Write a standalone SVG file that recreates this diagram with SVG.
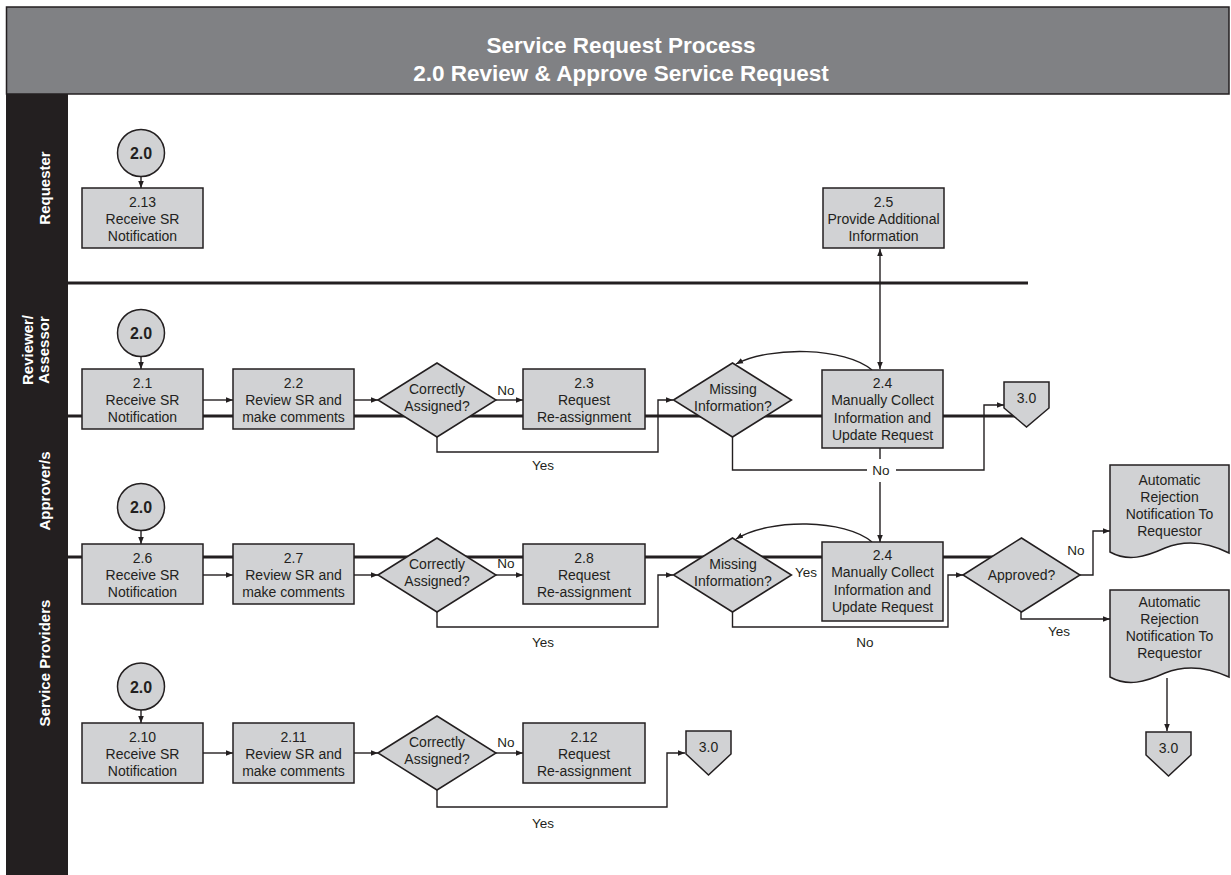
<svg xmlns="http://www.w3.org/2000/svg" width="1231" height="875" viewBox="0 0 1231 875">
<style>
.node{fill:#d1d2d4;stroke:#231f20;stroke-width:1.5}
.lane{stroke:#231f20;stroke-width:3;fill:none}
.conn{fill:none;stroke:#231f20;stroke-width:1.4}
.t{font-family:"Liberation Sans",Arial,sans-serif;font-size:14px;fill:#231f20;text-anchor:middle}
.lbl{font-family:"Liberation Sans",Arial,sans-serif;font-size:13.5px;fill:#231f20;text-anchor:middle}
.c{font-family:"Liberation Sans",Arial,sans-serif;font-size:16px;font-weight:bold;fill:#231f20;text-anchor:middle}
.lanet{font-family:"Liberation Sans",Arial,sans-serif;font-size:15px;font-weight:bold;fill:#ffffff;text-anchor:middle}
.title{font-family:"Liberation Sans",Arial,sans-serif;font-size:22.5px;font-weight:bold;fill:#ffffff;text-anchor:middle}
</style>
<defs>
<marker id="arr" viewBox="0 0 10 10" refX="10" refY="5" markerWidth="7" markerHeight="7" orient="auto-start-reverse" markerUnits="userSpaceOnUse">
<path d="M0,1 L10,5 L0,9 z" fill="#231f20"/>
</marker>
</defs>
<rect width="1231" height="875" fill="#ffffff"/>
<g id="header">
<rect x="6.5" y="7" width="1222.5" height="87" fill="#808184" stroke="#231f20" stroke-width="1.5"/>
<text class="title" x="621" y="53">Service Request Process</text>
<text class="title" x="621" y="81">2.0 Review &amp; Approve Service Request</text>
</g>
<g id="lanes">
<rect x="6" y="94" width="62" height="781" fill="#231f20"/>
<text class="lanet" transform="translate(45,188) rotate(-90)" x="0" y="5">Requester</text>
<text class="lanet" transform="translate(36,350) rotate(-90)" x="0" y="-3">Reviewer/</text>
<text class="lanet" transform="translate(36,350) rotate(-90)" x="0" y="13">Assessor</text>
<text class="lanet" transform="translate(45,491) rotate(-90)" x="0" y="5">Approver/s</text>
<text class="lanet" transform="translate(45,663) rotate(-90)" x="0" y="5">Service Providers</text>
<line class="lane" x1="68" y1="283" x2="1028" y2="283"/>
<line class="lane" x1="68" y1="416" x2="1020" y2="416"/>
<line class="lane" x1="68" y1="557" x2="993" y2="557"/>
</g>
<g id="connectors">
<path class="conn" d="M141,176.5 V188" marker-end="url(#arr)"/>
<path class="conn" d="M141,356.5 V369" marker-end="url(#arr)"/>
<path class="conn" d="M203,400 H233" marker-end="url(#arr)"/>
<path class="conn" d="M354,400 H378" marker-end="url(#arr)"/>
<path class="conn" d="M496,400 H523" marker-end="url(#arr)"/>
<path class="conn" d="M437,437 V452 H658 V400 H673" marker-end="url(#arr)"/>
<path class="conn" d="M732.5,437 V470 H984 V405 H1004" marker-end="url(#arr)"/>
<path class="conn" d="M880,249 V369" marker-start="url(#arr)" marker-end="url(#arr)"/>
<path class="conn" d="M880,448 V542" marker-end="url(#arr)"/>
<path class="conn" d="M872,370 C845,347 770,346 736,364" marker-end="url(#arr)"/>
<path class="conn" d="M141,530.5 V544" marker-end="url(#arr)"/>
<path class="conn" d="M203,575 H233" marker-end="url(#arr)"/>
<path class="conn" d="M354,575 H378" marker-end="url(#arr)"/>
<path class="conn" d="M496,575 H523" marker-end="url(#arr)"/>
<path class="conn" d="M437,612 V627 H658 V575 H673" marker-end="url(#arr)"/>
<path class="conn" d="M732.5,612 V627 H948 V575 H963" marker-end="url(#arr)"/>
<path class="conn" d="M872,542 C845,519 770,518 736,539" marker-end="url(#arr)"/>
<path class="conn" d="M1080,575 H1093 V531 H1110" marker-end="url(#arr)"/>
<path class="conn" d="M1021,612 V619 H1110" marker-end="url(#arr)"/>
<path class="conn" d="M1167,678 V731" marker-end="url(#arr)"/>
<path class="conn" d="M141,709.5 V723" marker-end="url(#arr)"/>
<path class="conn" d="M203,753 H233" marker-end="url(#arr)"/>
<path class="conn" d="M354,753 H378" marker-end="url(#arr)"/>
<path class="conn" d="M496,753 H523" marker-end="url(#arr)"/>
<path class="conn" d="M437,790 V807 H667 V753 H685" marker-end="url(#arr)"/>
</g>
<g id="labels">
<text class="lbl" x="506" y="395">No</text>
<text class="lbl" x="543" y="470">Yes</text>
<rect x="867" y="459" width="29" height="23" fill="#ffffff"/>
<text class="lbl" x="881" y="475">No</text>
<text class="lbl" x="506" y="568">No</text>
<text class="lbl" x="543" y="647">Yes</text>
<text class="lbl" x="806" y="577">Yes</text>
<text class="lbl" x="865" y="647">No</text>
<text class="lbl" x="1076" y="555">No</text>
<text class="lbl" x="1059" y="636">Yes</text>
<text class="lbl" x="506" y="747">No</text>
<text class="lbl" x="543" y="828">Yes</text>
</g>
<g id="n-start-req">
<circle class="node" cx="141" cy="153" r="23.5"/>
<text class="c" x="141" y="159">2.0</text>
</g>
<g id="n-2-13">
<rect class="node" x="82" y="188" width="121" height="60"/>
<text class="t" x="142.5" y="207">2.13</text>
<text class="t" x="142.5" y="224">Receive SR</text>
<text class="t" x="142.5" y="241">Notification</text>
</g>
<g id="n-2-5">
<rect class="node" x="823" y="188" width="121" height="60"/>
<text class="t" x="883.5" y="207">2.5</text>
<text class="t" x="883.5" y="224">Provide Additional</text>
<text class="t" x="883.5" y="241">Information</text>
</g>
<g id="n-start-rev">
<circle class="node" cx="141" cy="333" r="23.5"/>
<text class="c" x="141" y="339">2.0</text>
</g>
<g id="n-2-1">
<rect class="node" x="82" y="369" width="121" height="60"/>
<text class="t" x="142.5" y="388">2.1</text>
<text class="t" x="142.5" y="405">Receive SR</text>
<text class="t" x="142.5" y="422">Notification</text>
</g>
<g id="n-2-2">
<rect class="node" x="233" y="369" width="121" height="60"/>
<text class="t" x="293.5" y="388">2.2</text>
<text class="t" x="293.5" y="405">Review SR and</text>
<text class="t" x="293.5" y="422">make comments</text>
</g>
<g id="n-d1">
<polygon class="node" points="378,400 437,363 496,400 437,437"/>
<text class="t" x="437" y="394">Correctly</text>
<text class="t" x="437" y="411">Assigned?</text>
</g>
<g id="n-2-3">
<rect class="node" x="523" y="369" width="122" height="60"/>
<text class="t" x="584" y="388">2.3</text>
<text class="t" x="584" y="405">Request</text>
<text class="t" x="584" y="422">Re-assignment</text>
</g>
<g id="n-m1">
<polygon class="node" points="673.5,400 732.5,363 791.5,400 732.5,437"/>
<text class="t" x="733" y="394">Missing</text>
<text class="t" x="733" y="411">Information?</text>
</g>
<g id="n-2-4a">
<rect class="node" x="822" y="370" width="121" height="78"/>
<text class="t" x="882.5" y="388">2.4</text>
<text class="t" x="882.5" y="405">Manually Collect</text>
<text class="t" x="882.5" y="423">Information and</text>
<text class="t" x="882.5" y="440">Update Request</text>
</g>
<g id="n-end-rev">
<polygon class="node" points="1004,382 1049,382 1049,408 1026.5,427 1004,408"/>
<text class="t" x="1026.5" y="403">3.0</text>
</g>
<g id="n-start-app">
<circle class="node" cx="141" cy="507" r="23.5"/>
<text class="c" x="141" y="513">2.0</text>
</g>
<g id="n-2-6">
<rect class="node" x="82" y="544" width="121" height="60"/>
<text class="t" x="142.5" y="563">2.6</text>
<text class="t" x="142.5" y="580">Receive SR</text>
<text class="t" x="142.5" y="597">Notification</text>
</g>
<g id="n-2-7">
<rect class="node" x="233" y="544" width="121" height="60"/>
<text class="t" x="293.5" y="563">2.7</text>
<text class="t" x="293.5" y="580">Review SR and</text>
<text class="t" x="293.5" y="597">make comments</text>
</g>
<g id="n-d2">
<polygon class="node" points="378,575 437,538 496,575 437,612"/>
<text class="t" x="437" y="569">Correctly</text>
<text class="t" x="437" y="586">Assigned?</text>
</g>
<g id="n-2-8">
<rect class="node" x="523" y="544" width="122" height="60"/>
<text class="t" x="584" y="563">2.8</text>
<text class="t" x="584" y="580">Request</text>
<text class="t" x="584" y="597">Re-assignment</text>
</g>
<g id="n-m2">
<polygon class="node" points="673.5,575 732.5,538 791.5,575 732.5,612"/>
<text class="t" x="733" y="569">Missing</text>
<text class="t" x="733" y="586">Information?</text>
</g>
<g id="n-2-4b">
<rect class="node" x="822" y="542" width="121" height="79"/>
<text class="t" x="882.5" y="560">2.4</text>
<text class="t" x="882.5" y="577">Manually Collect</text>
<text class="t" x="882.5" y="595">Information and</text>
<text class="t" x="882.5" y="612">Update Request</text>
</g>
<g id="n-approved">
<polygon class="node" points="963,575 1021.5,538 1080,575 1021.5,612"/>
<text class="t" x="1021.5" y="580">Approved?</text>
</g>
<g id="n-doc-no">
<path class="node" d="M1110,465 H1229 V553 C1205,541 1185,540 1165,548 C1145,557 1128,562 1110,552 Z"/>
<text class="t" x="1169.5" y="485">Automatic</text>
<text class="t" x="1169.5" y="502">Rejection</text>
<text class="t" x="1169.5" y="519">Notification To</text>
<text class="t" x="1169.5" y="536">Requestor</text>
</g>
<g id="n-doc-yes">
<path class="node" d="M1110,590 H1229 V677 C1205,666 1185,665 1165,673 C1145,682 1128,687 1110,677 Z"/>
<text class="t" x="1169.5" y="607">Automatic</text>
<text class="t" x="1169.5" y="624">Rejection</text>
<text class="t" x="1169.5" y="641">Notification To</text>
<text class="t" x="1169.5" y="658">Requestor</text>
</g>
<g id="n-end-app">
<polygon class="node" points="1146,732 1191,732 1191,755 1168.5,776 1146,755"/>
<text class="t" x="1168.5" y="753">3.0</text>
</g>
<g id="n-start-sp">
<circle class="node" cx="141" cy="686.5" r="23.5"/>
<text class="c" x="141" y="692.5">2.0</text>
</g>
<g id="n-2-10">
<rect class="node" x="82" y="723" width="121" height="60"/>
<text class="t" x="142.5" y="742">2.10</text>
<text class="t" x="142.5" y="759">Receive SR</text>
<text class="t" x="142.5" y="776">Notification</text>
</g>
<g id="n-2-11">
<rect class="node" x="233" y="723" width="121" height="60"/>
<text class="t" x="293.5" y="742">2.11</text>
<text class="t" x="293.5" y="759">Review SR and</text>
<text class="t" x="293.5" y="776">make comments</text>
</g>
<g id="n-d3">
<polygon class="node" points="378,753 437,716 496,753 437,790"/>
<text class="t" x="437" y="747">Correctly</text>
<text class="t" x="437" y="764">Assigned?</text>
</g>
<g id="n-2-12">
<rect class="node" x="523" y="723" width="122" height="60"/>
<text class="t" x="584" y="742">2.12</text>
<text class="t" x="584" y="759">Request</text>
<text class="t" x="584" y="776">Re-assignment</text>
</g>
<g id="n-end-sp">
<polygon class="node" points="686,731 731,731 731,754 708.5,775 686,754"/>
<text class="t" x="708.5" y="752">3.0</text>
</g>
</svg>
